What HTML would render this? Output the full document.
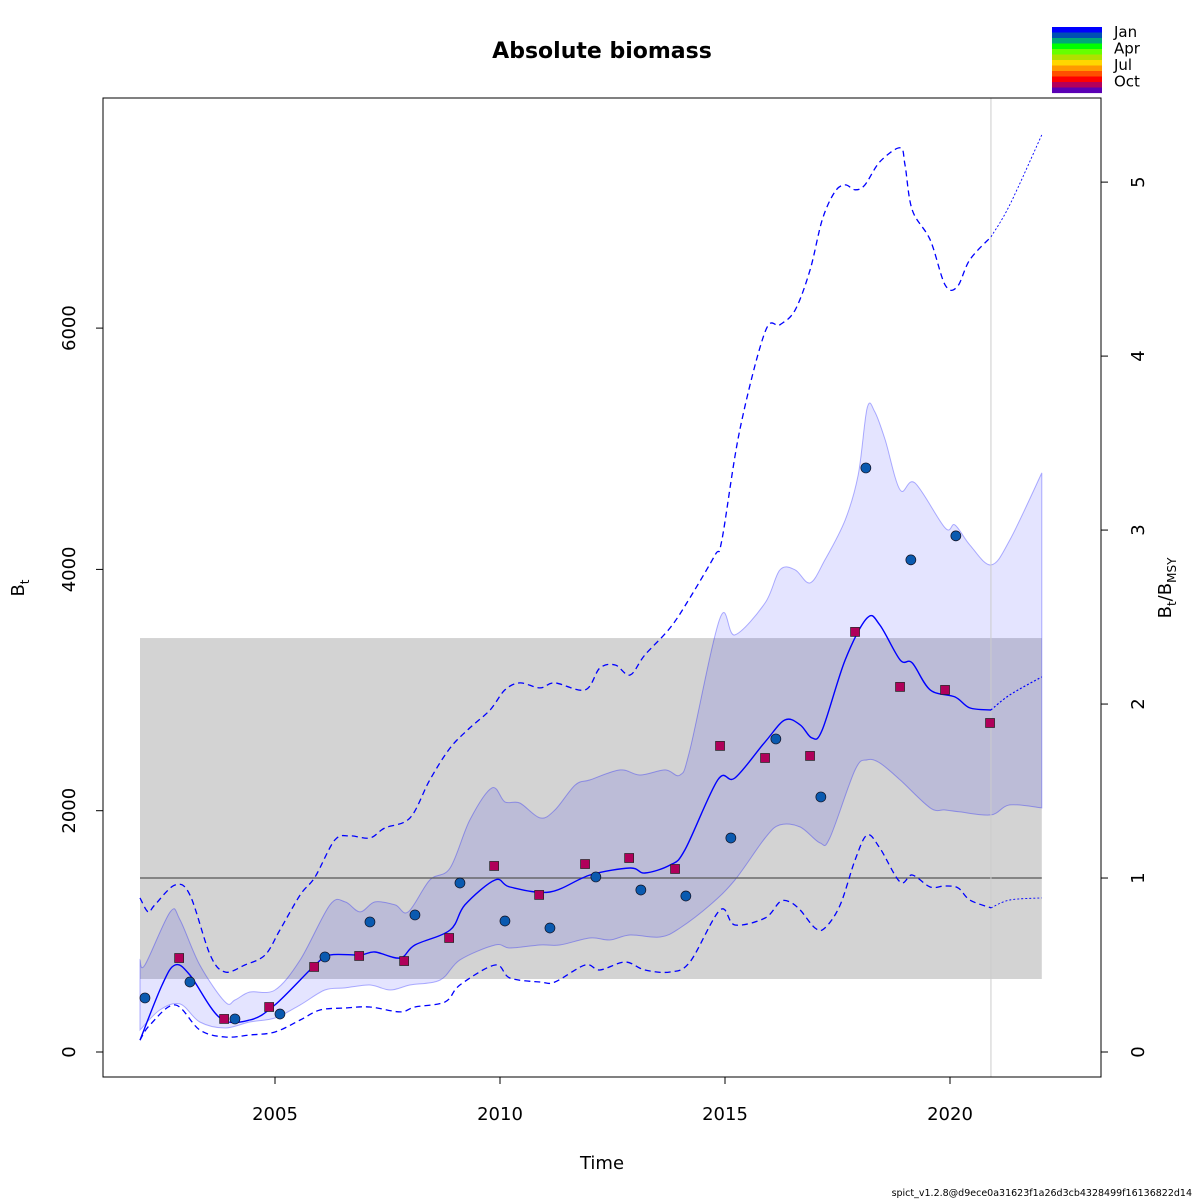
<!DOCTYPE html>
<html><head><meta charset="utf-8"><style>
body{margin:0;background:#fff;}
svg{display:block;font-family:"DejaVu Sans","Liberation Sans",sans-serif;}
</style></head><body>
<svg id="chart" width="1200" height="1200" xmlns="http://www.w3.org/2000/svg">
<rect width="1200" height="1200" fill="#fff"/>
<text x="602" y="58" text-anchor="middle" font-size="22" font-weight="bold">Absolute biomass</text>
<g id="plot"></g>
<rect x="103" y="98" width="998" height="979" fill="none" stroke="#000" stroke-width="1"/>
<g id="axes"></g>
<text x="602" y="1169" text-anchor="middle" font-size="18">Time</text>
<text transform="translate(24,588) rotate(-90)" text-anchor="middle" font-size="18">B<tspan font-size="12" dy="5">t</tspan></text>
<text transform="translate(1171,588) rotate(-90)" text-anchor="middle" font-size="18">B<tspan font-size="12" dy="5">t</tspan><tspan dy="-5">/B</tspan><tspan font-size="12" dy="5">MSY</tspan></text>
<text x="1192" y="1196" text-anchor="end" font-size="9.5">spict_v1.2.8@d9ece0a31623f1a26d3cb4328499f16136822d14</text>
<g id="legend"></g>
</svg>
<script>
const bT=[2002.0,2002.49,2002.78,2003.11,2003.78,2004.44,2005.0,2005.89,2006.22,2006.89,2007.22,2007.78,2008.11,2008.89,2009.22,2009.89,2010.22,2011.11,2012.0,2012.89,2013.22,2013.78,2014.11,2014.84,2015.22,2015.89,2016.33,2016.67,2016.93,2017.16,2017.67,2018.16,2018.44,2018.89,2019.16,2019.56,2020.11,2020.44,2020.91];
const bV=[99,555,721,638,282,265,390,721,804,804,829,779,887,1011,1219,1426,1368,1326,1467,1525,1484,1550,1675,2255,2271,2570,2752,2711,2603,2669,3250,3598,3540,3250,3225,3001,2943,2852,2835];
const pT=[2020.91,2021.33,2022.04];
const pV=[2835,2960,3109];
const uT=[2002.0,2002.11,2002.67,2002.89,2003.33,2003.89,2004.11,2004.44,2005.0,2005.56,2006.22,2006.56,2006.89,2007.22,2007.67,2007.96,2008.44,2008.89,2009.33,2009.82,2010.11,2010.44,2010.89,2011.22,2011.67,2012.0,2012.67,2013.11,2013.67,2014.0,2014.22,2014.89,2015.22,2015.89,2016.22,2016.56,2016.89,2017.22,2017.67,2017.96,2018.16,2018.33,2018.56,2018.89,2019.22,2019.89,2020.11,2020.44,2020.91,2021.33,2022.04];
const uV=[763,721,1161,1094,721,415,431,497,514,763,1219,1244,1161,1244,1219,1161,1426,1525,1923,2189,2073,2064,1940,2006,2213,2255,2338,2296,2338,2296,2504,3598,3457,3722,3996,3996,3888,4079,4410,4783,5339,5306,5073,4659,4717,4344,4369,4203,4037,4244,4800];
const lT=[2002.0,2002.44,2002.89,2003.33,2003.89,2004.44,2005.0,2005.56,2006.11,2006.56,2007.11,2007.56,2008.0,2008.67,2009.11,2009.89,2010.22,2010.89,2011.33,2012.0,2012.44,2012.89,2013.56,2014.0,2014.67,2015.22,2015.89,2016.22,2016.67,2017.11,2017.33,2017.89,2018.16,2018.44,2018.89,2019.56,2019.89,2020.22,2020.91,2021.33,2022.04];
const lV=[182,348,398,249,199,249,282,390,514,531,555,514,555,597,763,887,862,887,887,945,928,970,953,1028,1219,1426,1774,1882,1865,1733,1774,2338,2421,2396,2255,2023,2006,1990,1965,2048,2023];
const duT=[2002.0,2002.18,2002.33,2002.78,2003.11,2003.56,2003.89,2004.33,2004.78,2005.11,2005.56,2005.89,2006.33,2006.67,2007.11,2007.44,2008.0,2008.44,2008.89,2009.33,2009.78,2010.11,2010.44,2010.89,2011.22,2011.89,2012.22,2012.56,2012.89,2013.22,2013.78,2014.22,2014.78,2014.93,2015.33,2015.89,2016.22,2016.56,2016.89,2017.16,2017.44,2017.67,2017.89,2018.11,2018.44,2018.89,2019.0,2019.16,2019.56,2019.89,2020.16,2020.44,2020.91,2021.33,2022.04];
const duV=[1277,1161,1219,1384,1302,804,663,721,804,1011,1302,1451,1757,1791,1774,1857,1940,2255,2520,2686,2835,3001,3059,3018,3059,3001,3183,3208,3125,3291,3515,3764,4120,4244,5156,5969,6027,6151,6483,6897,7129,7187,7146,7187,7378,7494,7353,6980,6731,6358,6342,6566,6756,7022,7602];
const dlT=[2002.0,2002.22,2002.78,2003.33,2003.89,2004.44,2005.0,2005.56,2006.0,2006.56,2007.11,2007.78,2008.11,2008.78,2009.11,2009.89,2010.22,2010.89,2011.22,2011.89,2012.22,2012.78,2013.22,2013.78,2014.22,2014.89,2015.22,2015.89,2016.22,2016.44,2016.67,2017.0,2017.22,2017.56,2017.89,2018.16,2018.44,2018.89,2019.16,2019.56,2019.89,2020.18,2020.44,2020.91,2021.33,2022.04];
const dlV=[99,224,390,182,124,141,166,265,348,365,373,332,373,415,555,721,613,580,580,721,680,746,680,663,746,1177,1053,1111,1244,1244,1177,1028,1028,1219,1592,1799,1691,1409,1467,1368,1376,1360,1260,1194,1260,1277];
const cT=[2002.11,2003.11,2004.11,2005.11,2006.11,2007.11,2008.11,2009.11,2010.11,2011.11,2012.13,2013.13,2014.13,2015.13,2016.13,2017.13,2018.13,2019.13,2020.13];
const cV=[448,580,274,315,788,1078,1136,1401,1086,1028,1451,1343,1293,1774,2595,2114,4841,4079,4278];
const sT=[2002.87,2003.87,2004.87,2005.87,2006.87,2007.87,2008.87,2009.87,2010.87,2011.89,2012.87,2013.89,2014.89,2015.89,2016.89,2017.89,2018.89,2019.89,2020.89];
const sV=[779,274,373,705,796,754,945,1542,1302,1558,1608,1517,2537,2437,2454,3482,3026,3001,2727];
const xTicks=[2005,2010,2015,2020];
const yTicks=[0,2000,4000,6000];
const rTicks=[0,1,2,3,4,5];
const bmsy=1442;
const refLo=605, refHi=3431, refT0=2002.0, refT1=2022.04, tLast=2020.91;
const legendLabels=["Jan","Apr","Jul","Oct"];
const legendColors=["#0000ff","#0050b4","#00a878","#00ff00","#66ff00","#b0e000","#ffd700","#ff9900","#ff5000","#ff0000","#b4005a","#5a00b4"];

const NS="http://www.w3.org/2000/svg";
const X=t=>275+(t-2005)*45;
const Y=v=>1052-v*0.12065;
function mk(tag,attrs,parent){const e=document.createElementNS(NS,tag);for(const k in attrs)e.setAttribute(k,attrs[k]);parent.appendChild(e);return e;}
const plot=document.getElementById('plot'), axes=document.getElementById('axes');
function smooth(T,V,cont){
  const P=T.map((t,i)=>[X(t),Y(V[i])]);
  let d=(cont?'L':'M')+P[0][0].toFixed(1)+','+P[0][1].toFixed(1);
  for(let i=0;i<P.length-1;i++){
    const p0=P[Math.max(0,i-1)],p1=P[i],p2=P[i+1],p3=P[Math.min(P.length-1,i+2)];
    const c1=[p1[0]+(p2[0]-p0[0])/6,p1[1]+(p2[1]-p0[1])/6];
    const c2=[p2[0]-(p3[0]-p1[0])/6,p2[1]-(p3[1]-p1[1])/6];
    d+=` C${c1[0].toFixed(1)},${c1[1].toFixed(1)} ${c2[0].toFixed(1)},${c2[1].toFixed(1)} ${p2[0].toFixed(1)},${p2[1].toFixed(1)}`;
  }
  return d;
}

let e=mk('rect',{x:X(refT0),y:Y(refHi),width:X(refT1)-X(refT0),height:Y(refLo)-Y(refHi),fill:'#d3d3d3'},plot);


const bandD=smooth(uT,uV,false)+' '+smooth(lT.slice().reverse(),lV.slice().reverse(),true)+' Z';
e=mk('path',{d:bandD,fill:'rgba(0,0,255,0.105)',stroke:'rgba(0,0,255,0.3)','stroke-width':1},plot);


e=mk('line',{x1:X(refT0),x2:X(refT1),y1:Y(bmsy),y2:Y(bmsy),stroke:'#555','stroke-width':1.3},plot);


e=mk('line',{x1:X(tLast),x2:X(tLast),y1:98,y2:1077,stroke:'#ccc','stroke-width':1},plot);


function splitLine(T,V,name,dash){
  const i=T.findIndex(t=>t>=tLast);
  let a=mk('path',{d:smooth(T.slice(0,i+1),V.slice(0,i+1),false),fill:'none',stroke:'#0000ff','stroke-width':1.3,'stroke-dasharray':dash},plot);
  
  
  let b=mk('path',{d:smooth(T.slice(i),V.slice(i),false),fill:'none',stroke:'#0000ff','stroke-width':0.9,'stroke-dasharray':'2,2'},plot);
  
  
}
splitLine(duT,duV,'upper-dashed-ci','6,4');
splitLine(dlT,dlV,'lower-dashed-ci','6,4');
e=mk('path',{d:smooth(bT,bV,false),fill:'none',stroke:'#0000ff','stroke-width':1.4},plot);


e=mk('path',{d:smooth(pT,pV,false),fill:'none',stroke:'#0000ff','stroke-width':1.2,'stroke-dasharray':'2,2'},plot);


sT.forEach((t,i)=>{const s=mk('rect',{x:X(t)-4.5,y:Y(sV[i])-4.5,width:9,height:9,fill:'#b0005a',stroke:'#222','stroke-width':0.7},plot);

});
cT.forEach((t,i)=>{const c=mk('circle',{cx:X(t),cy:Y(cV[i]),r:5,fill:'#0a5ab0',stroke:'#112','stroke-width':0.7},plot);

});

xTicks.forEach(v=>{const x=X(v);mk('line',{x1:x,x2:x,y1:1077,y2:1084,stroke:'#000'},axes);
const t=mk('text',{x:x,y:1120,'text-anchor':'middle','font-size':18},axes);t.textContent=v;

});
mk('line',{x1:X(2005),x2:X(2020),y1:1077,y2:1077,stroke:'#000'},axes);
yTicks.forEach(v=>{const y=Y(v);mk('line',{x1:96,x2:103,y1:y,y2:y,stroke:'#000'},axes);
const t=mk('text',{transform:`translate(75,${y}) rotate(-90)`,'text-anchor':'middle','font-size':18},axes);t.textContent=v;

});
rTicks.forEach(v=>{const y=Y(v*bmsy);mk('line',{x1:1101,x2:1108,y1:y,y2:y,stroke:'#000'},axes);
const t=mk('text',{transform:`translate(1144,${y}) rotate(-90)`,'text-anchor':'middle','font-size':18},axes);t.textContent=v;

});

const lg=document.getElementById('legend');
legendColors.forEach((c,i)=>{mk('rect',{x:1052,y:27+i*5.5,width:50,height:5.6,fill:c},lg);});
legendLabels.forEach((l,i)=>{const t=mk('text',{x:1114,y:37+i*16.5,'font-size':15},lg);t.textContent=l;

});
</script>
</body></html>
